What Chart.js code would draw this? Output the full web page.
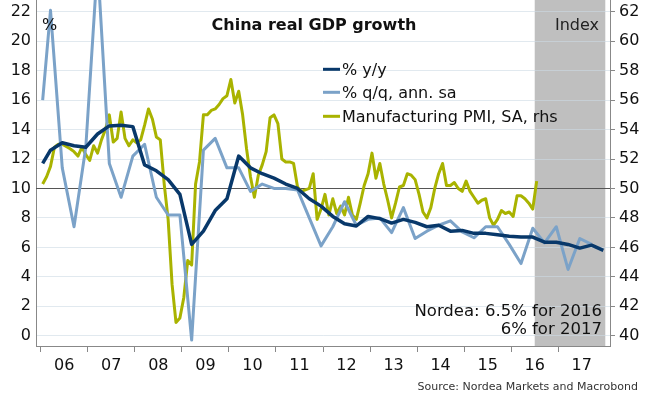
<!DOCTYPE html>
<html>
<head>
<meta charset="utf-8">
<title>China real GDP growth</title>
<script src="https://cdn.jsdelivr.net/npm/chart.js@4.4.1/dist/chart.umd.min.js"></script>
<style>
  body { margin: 0; background: #fff; font-family: "DejaVu Sans", Verdana, sans-serif; color: #111; }
  #wrap { position: relative; width: 662px; height: 398px; overflow: hidden; }
  #chart { position: absolute; left: 0; top: 0; }
  .lbl { position: absolute; white-space: nowrap; line-height: 1.15; }
  .swatch { display: inline-block; width: 17px; height: 3px; vertical-align: middle; margin-right: 2px; position: relative; top: -1px; }
</style>
</head>
<body>
<div id="wrap">
  <canvas id="chart" width="662" height="398"></canvas>
</div>
<script>
// tick labels for the year axis (label sits in the middle of each year)
const yearLabels = ['06','07','08','09','10','11','12','13','14','15','16','17'];
const firstYear = 2006;

// forecast period (grey box)
const forecastFrom = 2016.5;
const forecastTo = 2018.0;

// GDP % y/y, first point Jan 2006, then quarterly 2006Q1..2017Q4
const gdpYoY = [11.7,
  12.6, 13.1, 12.9, 12.8,
  13.7, 14.25, 14.3, 14.2,
  11.6, 11.2, 10.6, 9.6,
  6.2, 7.1, 8.5, 9.3,
  12.2, 11.4, 11.0, 10.7,
  10.3, 10.0, 9.3, 8.8,
  8.1, 7.6, 7.45, 8.1,
  7.95, 7.65, 7.9, 7.7,
  7.4, 7.5, 7.1, 7.15,
  6.95, 6.95, 6.85, 6.75,
  6.7, 6.7, 6.35, 6.35,
  6.2, 5.95, 6.15, 5.8];

// GDP % q/q ann. sa, first point Jan 2006, then quarterly 2006Q1..2017Q3
const gdpQoQ = [16.0,
  22.1, 11.4, 7.4, 12.8,
  25.3, 11.7, 9.4, 12.2,
  13.0, 9.4, 8.2, 8.2,
  -0.3, 12.6, 13.4, 11.4,
  11.4, 9.8, 10.3, 10.0,
  10.0, 9.9, 8.0, 6.1,
  7.4, 9.1, 7.5, 7.9,
  8.0, 7.0, 8.7, 6.6,
  7.1, 7.5, 7.8, 7.05,
  6.65, 7.4, 7.4, 6.2,
  4.9, 7.3, 6.3, 7.4,
  4.5, 6.6, 6.2];

// Manufacturing PMI SA, monthly Jan 2006..Jul 2016
const pmi = [
  50.3, 50.8, 51.5, 52.8, 53.0, 53.0, 52.85, 52.7, 52.5, 52.2, 52.8, 52.3,
  51.9, 52.9, 52.4, 53.3, 54.0, 55.0, 53.15, 53.4, 55.2, 53.4, 52.9, 53.3,
  53.1, 53.3, 54.3, 55.4, 54.7, 53.5, 53.3, 50.3, 47.9, 43.5, 40.9, 41.2,
  42.6, 45.1, 44.8, 50.3, 51.8, 55.0, 55.0, 55.3, 55.4, 55.7, 56.1, 56.3,
  57.4, 55.8, 56.6, 55.0, 52.7, 50.8, 49.4, 50.9, 51.6, 52.5, 54.8, 55.0,
  54.4, 52.0, 51.8, 51.8, 51.7, 50.1, 49.8, 49.9, 50.0, 51.0, 47.9, 48.6,
  49.6, 48.2, 49.3, 48.3, 48.8, 48.2, 49.4, 48.2, 47.9, 49.0, 50.2, 51.0,
  52.4, 50.7, 51.7, 50.3, 49.2, 48.0, 49.0, 50.1, 50.2, 51.0, 50.9, 50.6,
  49.6, 48.4, 48.0, 48.7, 50.0, 51.0, 51.7, 50.2, 50.2, 50.4, 50.0, 49.8,
  50.5, 49.8, 49.4, 49.0, 49.2, 49.3, 48.0, 47.5, 47.9, 48.5, 48.3, 48.4,
  48.1, 49.5, 49.5, 49.3, 49.0, 48.6, 50.5];

const seriesNames = ['% y/y', '% q/q, ann. sa', 'Manufacturing PMI, SA, rhs'];
const seriesColors = ['#08386a', '#7ba2c8', '#a9b300'];

// month (1-12) -> position on a decimal year axis, middle of the month
function monthPos(year, month) { return year + (month - 0.5) / 12; }

function quarterlyPoints(values) {
  // first value is the Jan 2006 observation, the rest are quarter ends
  return values.map((v, i) => {
    if (i === 0) return { x: monthPos(firstYear, 1), y: v };
    const q = i - 1;
    return { x: monthPos(firstYear + Math.floor(q / 4), (q % 4) * 3 + 3), y: v };
  });
}

function monthlyPoints(values) {
  return values.map((v, i) => ({ x: monthPos(firstYear + Math.floor(i / 12), (i % 12) + 1), y: v }));
}

const backdrop = {
  id: 'backdrop',
  beforeDraw(chart) {
    const { ctx, chartArea: a, scales: { x } } = chart;
    const x0 = x.getPixelForValue(forecastFrom);
    const x1 = x.getPixelForValue(forecastTo);
    ctx.save();
    ctx.fillStyle = '#bfbfbf';
    ctx.fillRect(x0, a.top, x1 - x0, a.bottom - a.top);
    ctx.restore();
  },
  beforeDatasetsDraw(chart) {
    // the 10 % / 50 index line
    const { ctx, chartArea: a, scales: { y } } = chart;
    const py = Math.round(y.getPixelForValue(10)) + 0.5;
    ctx.save();
    ctx.strokeStyle = '#555';
    ctx.lineWidth = 1;
    ctx.beginPath();
    ctx.moveTo(a.left, py);
    ctx.lineTo(a.right, py);
    ctx.stroke();
    ctx.restore();
  }
};

// keep the plot box flush with the canvas edges
function noPad(s) { s.paddingTop = 0; s.paddingBottom = 0; s.paddingLeft = 0; s.paddingRight = 0; }

const tickFont = { family: 'DejaVu Sans', size: 16 };
const yearTicks = [];
for (let i = 0; i < yearLabels.length; i++) {
  yearTicks.push(firstYear + i, firstYear + i + 0.5);
}

new Chart(document.getElementById('chart'), {
  type: 'line',
  data: {
    datasets: [
      { label: seriesNames[0], data: quarterlyPoints(gdpYoY), yAxisID: 'y',
        borderColor: seriesColors[0], borderWidth: 3.5 },
      { label: seriesNames[1], data: quarterlyPoints(gdpQoQ), yAxisID: 'y',
        borderColor: seriesColors[1], borderWidth: 3 },
      { label: seriesNames[2], data: monthlyPoints(pmi), yAxisID: 'y2',
        borderColor: seriesColors[2], borderWidth: 3 }
    ]
  },
  options: {
    responsive: false,
    animation: false,
    devicePixelRatio: 1,
    layout: { padding: 0 },
    elements: {
      point: { radius: 0 },
      line: { tension: 0, borderJoinStyle: 'round', fill: false }
    },
    plugins: { legend: { display: false }, tooltip: { enabled: false } },
    scales: {
      x: {
        type: 'linear',
        min: 2005.9,
        max: 2018.1,
        afterBuildTicks: s => { s.ticks = yearTicks.map(v => ({ value: v })); },
        afterFit: s => { s.height = 52; noPad(s); },
        ticks: {
          autoSkip: false, maxRotation: 0, padding: 4, color: '#111', font: tickFont,
          callback: v => (v % 1 === 0.5 ? yearLabels[Math.floor(v) - firstYear] : '')
        },
        grid: {
          drawOnChartArea: false, drawTicks: true, tickLength: 6, tickWidth: 1,
          tickColor: c => (c.tick && c.tick.value % 1 === 0 ? '#888' : 'rgba(0,0,0,0)')
        },
        border: { display: true, color: '#888', width: 1 }
      },
      y: {
        position: 'left',
        min: -0.7,
        max: 22.8,
        afterBuildTicks: s => {
          const t = [];
          for (let v = 0; v <= 22; v += 2) t.push({ value: v });
          s.ticks = t;
        },
        afterFit: s => { s.width = 36; noPad(s); },
        ticks: { padding: 5, color: '#111', font: tickFont },
        grid: { color: 'rgba(205,218,228,0.6)', lineWidth: 1, drawTicks: false },
        border: { display: true, color: '#888', width: 1 }
      },
      y2: {
        position: 'right',
        min: 39.3,
        max: 62.8,
        afterBuildTicks: s => {
          const t = [];
          for (let v = 40; v <= 62; v += 2) t.push({ value: v });
          s.ticks = t;
        },
        afterFit: s => { s.width = 52; noPad(s); },
        ticks: { padding: 4, color: '#111', font: tickFont },
        grid: { drawOnChartArea: false, drawTicks: true, tickLength: 5, tickColor: '#888' },
        border: { display: true, color: '#888', width: 1 }
      }
    }
  },
  plugins: [backdrop]
});

// text around the plot
const wrap = document.getElementById('wrap');
function place(html, x, y, align, style) {
  const d = document.createElement('div');
  d.className = 'lbl';
  d.innerHTML = html;
  d.style.left = x + 'px';
  d.style.top = y + 'px';
  const tx = align === 'center' ? '-50%' : align === 'right' ? '-100%' : '0';
  d.style.transform = 'translate(' + tx + ',-50%)';
  Object.assign(d.style, style || {});
  wrap.appendChild(d);
  return d;
}

place('China real GDP growth', 314, 25, 'center', { fontWeight: 'bold', fontSize: '16px' });
place('%', 42, 25, 'left', { fontSize: '16px' });
place('Index', 599, 25, 'right', { fontSize: '16px', color: '#222' });

seriesNames.forEach((name, i) => {
  place('<span class="swatch" style="background:' + seriesColors[i] + '"></span>' + name,
        323, 70 + i * 23.4, 'left', { fontSize: '16px' });
});

place('Nordea: 6.5% for 2016', 602, 311, 'right', { fontSize: '16.5px' });
place('6% for 2017', 602, 329, 'right', { fontSize: '16.5px' });
place('Source: Nordea Markets and Macrobond', 638, 387, 'right', { fontSize: '11px', color: '#333' });
</script>
</body>
</html>
